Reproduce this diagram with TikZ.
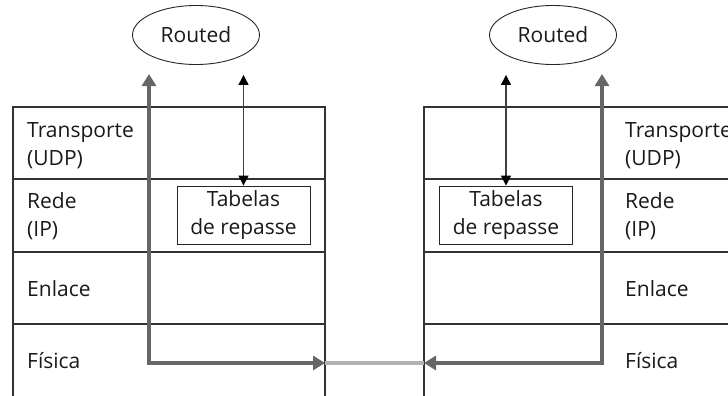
\documentclass[tikz,border=0pt]{standalone}
\usepackage{fontspec}
\setmainfont{Open Sans}
\usetikzlibrary{arrows.meta,positioning,shapes.geometric}

\begin{document}
\begin{tikzpicture}[x=1pt,y=-1pt,
  txt/.style={font=\fontsize{21}{28}\selectfont,text=black!90},
  layer/.style={txt,anchor=west,inner sep=0pt,align=left},
  routed/.style={txt,draw=black!85,line width=0.9pt,ellipse,minimum width=127pt,minimum height=59pt,inner sep=0pt},
  tabbox/.style={txt,draw=black!85,line width=0.9pt,minimum width=133pt,minimum height=58pt,inner sep=0pt,align=center},
  stack/.style={draw=black!80,line width=1.1pt},
  ctl/.style={draw=black!75,line width=1.3pt,{Triangle[length=10pt,width=10pt,color=black]}-{Triangle[length=10pt,width=10pt,color=black]},shorten >=10pt},
  flow/.style={draw=black!60,line width=4pt,{Triangle[length=12pt,width=14pt]}-{Triangle[length=12pt,width=14pt]}},
  link/.style={draw=black!30,line width=4pt}]
\useasboundingbox (0,0) rectangle (728,396);
\clip (0,0) rectangle (728,396);
% daemons and tables
\node[routed] (rtl) at (196,35) {Routed};
\node[routed] (rtr) at (553,35) {Routed};
\node[tabbox] (tbl) at (243.5,215) {Tabelas\\de repasse};
\node[tabbox] (tbr) at (506,215) {Tabelas\\de repasse};
% layer stacks
\draw[stack] (13,396) |- (325,107) -- (325,396);
\draw[stack] (424,396) |- (740,107);
\foreach \y in {179,252,324} {
  \draw[stack] (13,\y) -- (325,\y);
  \draw[stack] (424,\y) -- (740,\y);
}
\node[layer] (trl) at (27,146) {Transporte\\(UDP)};
\node[layer] (rdl) at (27,216) {Rede\\(IP)};
\node[layer] (enl) at (27,289) {Enlace};
\node[layer] (fsl) at (27,361) {Física};
\node[layer] (trr) at (625,146) {Transporte\\(UDP)};
\node[layer] (rdr) at (625,216) {Rede\\(IP)};
\node[layer] (enr) at (625,289) {Enlace};
\node[layer] (fsr) at (625,361) {Física};
% connectors
\coordinate (lup) at (149,74);
\coordinate (lphy) at (325,363);
\coordinate (rup) at (602,74);
\coordinate (rphy) at (424,363);
\draw[link] (lphy) -- (rphy);
\draw[flow] (lup) |- (lphy);
\draw[flow] (rup) |- (rphy);
\draw[ctl] (tbl.north) -- (tbl.north |- rtl.south);
\draw[ctl] (tbr.north) -- (tbr.north |- rtr.south);
\end{tikzpicture}
\end{document}
